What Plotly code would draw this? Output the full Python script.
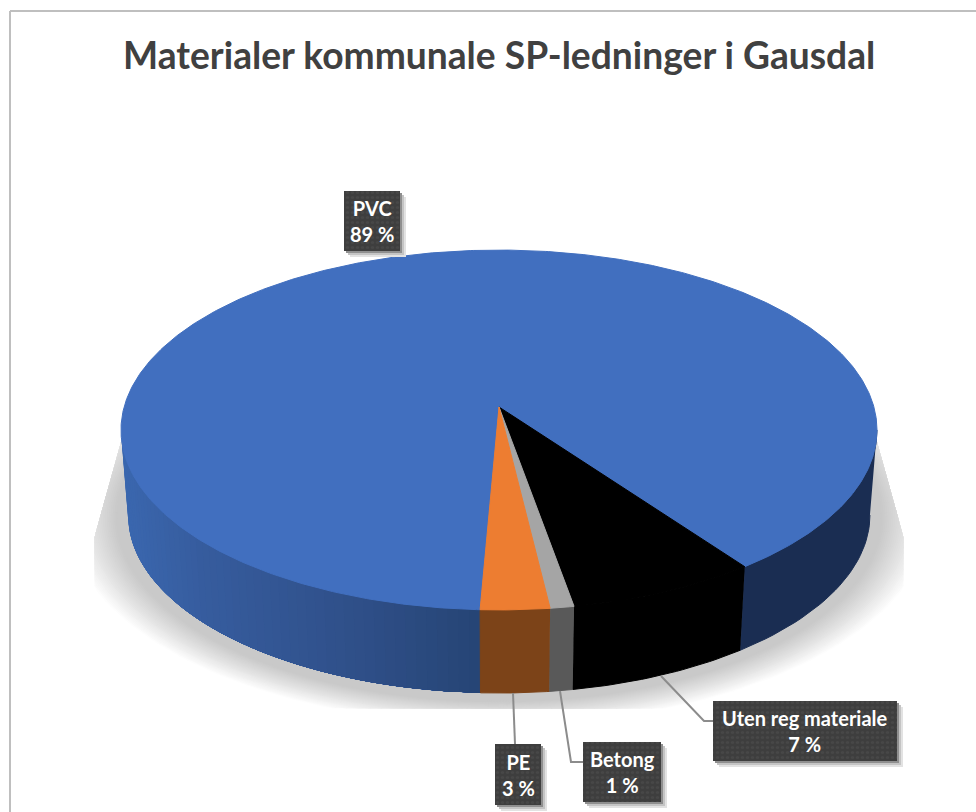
import numpy as np
import plotly.graph_objects as go

TITLE = "Materialer kommunale SP-ledninger i Gausdal"
categories = ["PVC", "Uten reg materiale", "Betong", "PE"]
values = [89.3, 7.2, 0.9, 2.6]
top_colors = ["#416fbf", "#000000", "#a5a5a5", "#ed7d31"]
side_colors = ["#1a2d52", "#000000", "#595959", "#7c4318"]
# label boxes: x0, x1, y0, y1
boxes = {"PVC": (344, 400, 191, 251), "Uten reg materiale": (713, 897, 701, 761),
         "Betong": (583, 661, 742, 802), "PE": (495, 541, 744, 805)}
leaders = {"Uten reg materiale": ([661, 704, 713], [676, 721, 721]),
           "Betong": ([560, 571, 583], [691, 762, 762]),
           "PE": ([513, 515], [693, 744])}

END_OF_PVC = 144.0   # clockwise degrees from the back of the pie
K = 0.1278           # perspective strength
CX = 499
W, H = 976, 812
SIDE = np.degrees(np.arccos(-K))  # where the rim is widest on screen


def project(t_deg, a, b, cy):
    t = np.radians(t_deg)
    X, Y = np.sin(t), np.cos(t)
    d = 1 + K * Y
    return CX + a * X / d, cy - b * Y / d


def top(t):
    return project(t, 374.9, 177.0, 407.0)


def bottom(t):
    return project(t, 367.9, 175.1, 492.3)


fig = go.Figure()


def poly(x, y, color, name=None, lw=1):
    fig.add_trace(go.Scatter(x=list(x), y=list(y), mode="lines", fill="toself", fillcolor=color,
                             line=dict(color=color, width=lw), hoverinfo="skip",
                             showlegend=False, name=name))


# soft ground shadow, clipped to its wedge-shaped frame
phi = np.radians(np.linspace(0, 360, 241))
steps = 26
for i in range(steps, -1, -1):
    f = i / steps
    rx, ry = 382 + 50 * f, 184 + 24 * f
    sx = CX + rx * np.cos(phi)
    sy = 517 + ry * np.sin(phi)
    sy = np.clip(sy, 440, 708)
    inset = np.clip(537 - sy, 0, None) * 27 / 97
    sx = np.clip(sx, 95 + inset, 903 - inset)
    g = int(round(201 + (255 - 201) * f ** 1.1))
    poly(sx, sy, f"rgb({g},{g},{g})")

# slice angles
spans = [v / sum(values) * 360 for v in values]
starts = []
cur = END_OF_PVC - spans[0]
for s in spans:
    starts.append(cur)
    cur += s
ends = [s + d for s, d in zip(starts, spans)]


def wall(t0, t1, color, n=30, lw=1):
    t = np.linspace(t0, t1, n)
    xa, ya = top(t)
    xb, yb = bottom(t)
    poly(np.r_[xa, xb[::-1]], np.r_[ya, yb[::-1]], color, lw=lw)


# dark right part of the PVC wall
wall(SIDE, END_OF_PVC, side_colors[0])
# left part of the PVC wall with a horizontal gradient, painted far to near
shade_x = [125, 200, 360, 479]
shade_r = [59, 55, 47, 38]
shade_g = [104, 93, 79, 69]
shade_b = [176, 159, 136, 117]
front = ends[3]
edges = np.linspace(360 - SIDE, front, 56)[:-1]
for t0 in edges:
    xm = bottom(t0)[0]
    col = "rgb(%d,%d,%d)" % (np.interp(xm, shade_x, shade_r), np.interp(xm, shade_x, shade_g),
                             np.interp(xm, shade_x, shade_b))
    wall(t0, front, col, n=40, lw=0)
for i in (1, 2, 3):
    wall(starts[i], ends[i], side_colors[i])

# top faces
apex_x, apex_y = CX, 407.0
for i in range(4):
    t = np.linspace(starts[i], ends[i], max(4, int(spans[i] * 2)))
    x, y = top(t)
    poly(np.r_[apex_x, x, apex_x], np.r_[apex_y, y, apex_y], top_colors[i], categories[i])

# leader lines
for cat, (lx, ly) in leaders.items():
    fig.add_trace(go.Scatter(x=lx, y=ly, mode="lines", line=dict(color="#8c8c8c", width=2),
                             hoverinfo="skip", showlegend=False))

shapes = [
    dict(type="line", xref="x", yref="y", x0=10, x1=10, y0=11, y1=812, line=dict(color="#bfbfbf", width=2)),
    dict(type="line", xref="x", yref="y", x0=10, x1=976, y0=11, y1=11, line=dict(color="#bfbfbf", width=2)),
]
annotations = [dict(x=499, y=54, xref="x", yref="y", text=f"<b>{TITLE}</b>", showarrow=False,
                    font=dict(family="Lato", size=37.2, color="#404040"))]
for cat, v in zip(categories, values):
    x0, x1, y0, y1 = boxes[cat]
    for off, col in ((6, "#e2e2e2"), (4, "#c4c4c4"), (2, "#8f8f8f")):
        poly([x0 + off, x1 + off, x1 + off, x0 + off, x0 + off],
             [y0 + off, y0 + off, y1 + off, y1 + off, y0 + off], col, lw=0)
    # the box itself: dotted dark fill, on an overlay axis pair so it sits above the pie
    fig.add_trace(go.Bar(x=[(x0 + x1) / 2], y=[y1 - y0], base=[y0], width=[x1 - x0], xaxis="x2", yaxis="y2",
                         marker=dict(color="#3e3e3e", line_width=0,
                                     pattern=dict(shape=".", fgcolor="#505050", bgcolor="#3e3e3e",
                                                  size=5, solidity=0.3)),
                         hoverinfo="skip", showlegend=False))
    annotations.append(dict(x=(x0 + x1) / 2, y=(y0 + y1) / 2, xref="x", yref="y", showarrow=False,
                            text=f"<b>{cat}<br>{round(v)} %</b>",
                            font=dict(family="Lato", size=20, color="#ffffff")))

fig.update_layout(
    width=W, height=H, margin=dict(l=0, r=0, t=0, b=0),
    paper_bgcolor="#ffffff", plot_bgcolor="#ffffff", showlegend=False, barmode="overlay",
    xaxis=dict(range=[0, W], visible=False, fixedrange=True),
    yaxis=dict(range=[H, 0], visible=False, fixedrange=True),
    xaxis2=dict(range=[0, W], visible=False, fixedrange=True, overlaying="x"),
    yaxis2=dict(range=[H, 0], visible=False, fixedrange=True, overlaying="y"),
    shapes=shapes, annotations=annotations,
)
fig.write_html("out.html", config={"displayModeBar": False},
               post_script="document.body.style.margin='0';document.documentElement.style.overflow='hidden';")
